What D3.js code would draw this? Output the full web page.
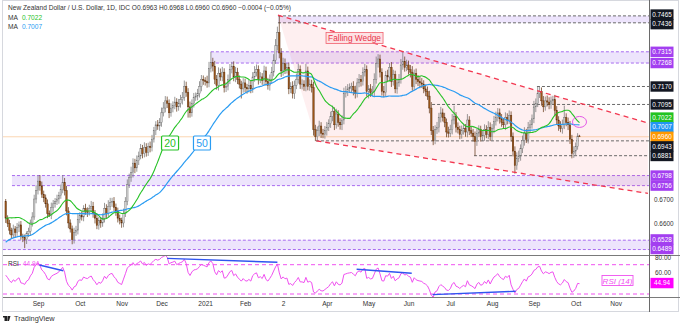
<!DOCTYPE html>
<html>
<head>
<meta charset="utf-8">
<script src="https://cdn.jsdelivr.net/npm/d3@7"></script>
<style>
  body { margin: 0; background: #fff; }
  svg { display: block; font-family: "Liberation Sans", Arial, sans-serif; }
</style>
</head>
<body>
<svg id="chart" width="680" height="325"></svg>
<script>
// NZD/USD daily closes in pips (6620 = 0.6620), 7 Aug 2020 .. 5 Oct 2021
var warmup = [6300,6330,6360,6400,6440,6480,6500,6520,6530,6500,
              6490,6530,6550,6460,6420,6450,6470,6480,6460,6440,
              6430,6470,6480,6460,6440,6420,6450,6430,6460,6500,
              6520,6540,6560,6570,6550,6570,6590,6600,6620,6630,
              6660,6690,6670,6640,6630,6670,6650,6660,6690];
var firstOpen = 6690;
var closes = [
  6620,6598,6570,6550,6575,6560,6580,6592,6545,6540,
  6530,6555,6565,6600,6625,6700,6735,6775,6755,6720,
  6705,6680,6640,6630,6665,6680,6690,6700,6715,6740,
  6770,6735,6650,6600,6575,6530,6560,6570,6615,6630,
  6625,6660,6650,6645,6660,6670,6640,6620,6590,6610,
  6600,6620,6660,6640,6670,6685,6690,6665,6650,6620,
  6610,6600,6640,6690,6760,6790,6810,6850,6830,6860,
  6880,6910,6890,6915,6895,6920,6915,6950,6985,7010,
  7005,7020,7060,7080,7110,7100,7060,7080,7090,7105,
  7085,7100,7115,7125,7170,7145,7085,7060,7100,7125,
  7130,7140,7170,7200,7195,7190,7185,7245,7270,7255,
  7200,7175,7225,7210,7230,7165,7170,7200,7240,7255,
  7210,7230,7200,7180,7160,7185,7165,7160,7175,7160,
  7210,7230,7240,7200,7210,7195,7235,7190,7175,7200,
  7230,7280,7340,7395,7310,7235,7265,7240,7250,7160,
  7170,7140,7175,7200,7240,7180,7180,7170,7235,7170,
  7180,7165,6990,6960,6985,7005,6975,6970,6985,7000,
  7015,7045,7065,7010,7055,7020,7010,7030,7140,7150,
  7160,7165,7170,7155,7140,7185,7200,7190,7230,7240,
  7150,7160,7145,7150,7200,7265,7285,7230,7150,7145,
  7215,7210,7250,7190,7220,7160,7185,7200,7260,7275,
  7250,7260,7240,7230,7170,7225,7200,7190,7185,7180,
  7160,7150,7130,7080,6985,6945,6990,7000,7040,7060,
  7040,7020,6980,6975,6990,7030,7045,7000,6990,6970,
  6985,6995,6980,7030,6985,6975,6960,6940,6975,6990,
  6960,6965,6990,6970,7000,6960,6995,7025,7040,7060,
  7035,7020,7010,7040,7030,7050,6960,6900,6840,6870,
  6880,6910,6945,6975,6950,7000,7010,7035,7085,7100,
  7140,7150,7110,7085,7110,7105,7095,7110,7115,7070,
  7030,7005,6995,7010,7040,7020,7010,6950,6890,6900,
  6920,6963,6960];
// wick lengths above the body / below the body, pips
var wickUp = [
  10,12,15,10,18,12,20,14,16,10, 12,10,15,14,20,18,22,23,25,18,
  15,14,18,12,20,16,14,18,15,20, 30,18,20,16,15,14,20,18,22,15,
  18,14,20,15,16,22,18,14,20,16, 15,20,24,18,25,20,15,18,16,14,
  15,12,20,18,22,16,25,20,18,22, 18,20,16,22,18,15,20,18,16,15,
  20,18,22,25,20,18,16,20,18,22, 16,18,20,22,25,20,18,22,16,18,
  15,20,22,18,16,14,25,28,45,20, 22,18,25,20,22,16,18,20,24,18,
  20,22,18,16,14,20,18,16,22,18, 20,25,22,18,20,16,22,18,16,20,
  22,25,28,25,70,20,25,22,18,20, 18,22,20,24,25,18,20,16,30,18,
  20,18,25,20,18,22,16,18,20,22, 18,20,25,18,22,16,18,20,25,22,
  20,18,16,22,18,20,22,18,20,25, 18,16,20,22,25,30,20,18,16,22,
  20,25,18,22,20,16,18,22,25,40, 20,22,18,20,25,16,20,18,22,20,
  16,18,20,22,25,20,18,22,20,25, 18,20,16,22,20,25,45,18,20,16,
  22,20,18,25,16,20,18,22,20,18, 16,20,22,18,25,20,18,22,25,20,
  18,20,16,22,18,20,16,18,20,25, 22,18,20,25,18,22,20,18,25,20,
  30,18,16,20,18,22,20,18,16,20, 18,16,20,22,50,18,20,16,18,20,
  16,12,5];
var wickDn = [
  20,15,18,16,12,20,14,18,15,20, 35,18,14,16,15,12,18,16,20,15,
  18,16,20,5,14,18,16,15,20,14,  16,20,18,22,15,19,16,14,18,16,
  15,18,16,20,14,16,18,22,16,18, 20,16,18,22,14,16,18,15,20,18,
  16,20,18,15,16,14,18,20,22,16, 18,14,20,16,18,15,20,16,14,18,
  16,20,18,15,18,20,22,16,18,15, 20,16,18,20,15,18,45,20,16,18,
  15,18,16,20,18,16,20,18,16,22, 20,18,22,16,18,20,18,16,20,15,
  18,22,20,18,40,16,18,20,15,18, 16,20,18,22,16,18,20,16,18,22,
  15,18,16,20,22,25,20,18,16,22, 18,20,22,16,18,20,22,18,20,16,
  18,20,25,18,17,22,20,16,18,20, 16,18,20,22,16,18,20,22,18,16,
  20,16,18,22,20,16,18,20,16,18, 22,30,18,16,20,18,16,22,18,20,
  16,18,20,22,16,18,20,16,18,20, 18,16,20,22,18,16,20,18,22,16,
  18,20,16,22,18,20,16,18,22,20, 16,20,22,18,16,20,18,22,16,20,
  18,16,20,22,18,16,20,59,18,16, 20,18,22,16,20,18,16,20,18,16,
  20,18,16,22,18,16,20,22,34,18, 16,20,18,22,16,18,20,16,18,22,
  16,18,20,22,16,18,20,18,16,22, 18,20,16,22,18,16,22,20,20,18,
  16,14,0];

// month ticks (trading-day index of first session of the month)
var monthIdx = [17, 39, 61, 82, 105, 126, 146, 169, 191, 212, 234, 256, 278, 300, 321];
var monthLbl = ["Sep", "Oct", "Nov", "Dec", "2021", "Feb", "2", "Apr", "May", "Jun", "Jul", "Aug", "Sep", "Oct", "Nov"];
var priceTicks = [0.75, 0.74, 0.73, 0.72, 0.71, 0.70, 0.69, 0.68, 0.67, 0.66, 0.65];
var rsiTicks = [80, 60, 40];

// horizontal levels shown on the price scale
var levelVals = [0.7465, 0.7436, 0.7315, 0.7268, 0.7170, 0.7095, 0.7022, 0.7007, 0.6960, 0.6943, 0.6881, 0.6798, 0.6756, 0.6528, 0.6489];
var levelKind = ["line", "line", "zone", "zone", "line", "line", "ma20", "ma50", "last", "line", "line", "zone", "zone", "zone", "zone"];

// support / resistance zones: top, bottom, start index
var zoneTop = [0.7465, 0.7315, 0.6798, 0.6528];
var zoneBot = [0.7436, 0.7268, 0.6756, 0.6489];
var zoneFrom = [143.3, 108, 3.3, -1.5];
var zoneDash = ["#6a6a6a", "#a86cf0", "#a86cf0", "#a86cf0"];
// single dashed levels and where they start
var lineVals = [0.7170, 0.7095, 0.6943, 0.6881];
var lineFrom = [279.6, 224.4, 163.3, 246.5];

// falling wedge trendlines [index, price]
var wedgeUpper = [[143.3, 0.7468], [338, 0.70175]];
var wedgeLower = [[163.5, 0.6943], [338, 0.67235]];

// RSI divergence lines [index, rsi]
var rsiLines = [
  [[17.7, 69.6], [30.3, 61.8]],
  [[85, 78.7], [143, 73.3]],
  [[184.7, 63.7], [213.7, 58.3]],
  [[224.7, 29.1], [268.4, 33.7]]
];

var header = "New Zealand Dollar / U.S. Dollar, 1D, IDC  O0.6963  H0.6968  L0.6960  C0.6960  \u22120.0004 (\u22120.05%)";
var rsiNow = 44.94;

var colUp = "#d4d4d4", colUpLine = "#6e6e6e", colDn = "#9a5418", colDnLine = "#5b2f0d";
var colMa20 = "#27c227", colMa50 = "#2a9cf2", colWedge = "#f2364f", colRsi = "#f050f0";
var kindColor = { line: "#131722", zone: "#a33ff0", ma20: "#22c322", ma50: "#2196f3", last: "#ff9800" };

// ---- indicators
var allC = warmup.concat(closes);
var nW = warmup.length;

function sma(n) {
  var out = [];
  for (var i = 0; i < closes.length; i++) {
    var j = i + nW, s = 0;
    for (var k = j - n + 1; k <= j; k++) s += allC[k];
    out.push({ i: i, v: s / n / 1e4 });
  }
  return out;
}

function rsiCalc(n) {
  var out = [], g0 = 0, l0 = 0, ag, al;
  for (var j = 1; j < allC.length; j++) {
    var ch = allC[j] - allC[j - 1];
    var g = Math.max(ch, 0), l = Math.max(-ch, 0);
    if (j <= n) { g0 += g; l0 += l; if (j == n) { ag = g0 / n; al = l0 / n; } }
    else { ag = (ag * (n - 1) + g) / n; al = (al * (n - 1) + l) / n; }
    if (j >= nW) out.push({ i: j - nW, v: al == 0 ? 100 : 100 - 100 / (1 + ag / al) });
  }
  return out;
}

var candles = closes.map(function (c, i) {
  var o = i == 0 ? firstOpen : closes[i - 1];
  return { i: i, o: o / 1e4, c: c / 1e4,
           h: (Math.max(o, c) + wickUp[i]) / 1e4,
           l: (Math.min(o, c) - wickDn[i]) / 1e4 };
});
var ma20 = sma(20), ma50 = sma(50), rsi = rsiCalc(14);

// ---- layout
var plotL = 3, plotR = 649, mainT = 2, mainB = 255, rsiT = 256, rsiB = 297;
var x = d3.scaleLinear().domain([0, 338]).range([5.7, 5.7 + 338 * 1.9]);
var y = d3.scaleLinear().domain([0.66, 0.75]).range([7.5 + 0.09 * 2394, 7.5]);
var yr = d3.scaleLinear().domain([30, 70]).range([294, 264.7]);

var svg = d3.select("#chart");
svg.append("rect").attr("width", 680).attr("height", 325).attr("fill", "#fff");

var defs = svg.append("defs");
defs.append("clipPath").attr("id", "clipMain").append("rect")
  .attr("x", plotL).attr("y", mainT).attr("width", plotR - plotL).attr("height", mainB - mainT);
defs.append("clipPath").attr("id", "clipRsi").append("rect")
  .attr("x", plotL).attr("y", rsiT).attr("width", plotR - plotL).attr("height", rsiB - rsiT);

var main = svg.append("g").attr("clip-path", "url(#clipMain)");

// zones
zoneTop.forEach(function (t, k) {
  var x0 = x(zoneFrom[k]);
  main.append("rect")
    .attr("x", x0).attr("y", y(t)).attr("width", plotR - x0).attr("height", y(zoneBot[k]) - y(t))
    .attr("fill", "rgba(150,95,240,0.17)");
  [t, zoneBot[k]].forEach(function (v) {
    main.append("line").attr("x1", x0).attr("x2", plotR).attr("y1", y(v)).attr("y2", y(v))
      .attr("stroke", zoneDash[k]).attr("stroke-width", 1).attr("stroke-dasharray", "3,2");
  });
});

// wedge fill
var wedgePoly = [wedgeUpper[0], wedgeUpper[1], wedgeLower[1], wedgeLower[0]];
main.append("path")
  .attr("d", "M" + wedgePoly.map(function (p) { return x(p[0]) + "," + y(p[1]); }).join("L") + "Z")
  .attr("fill", "rgba(242,54,69,0.08)");

// single levels
lineVals.forEach(function (v, k) {
  main.append("line").attr("x1", x(lineFrom[k])).attr("x2", plotR).attr("y1", y(v)).attr("y2", y(v))
    .attr("stroke", "#6a6a6a").attr("stroke-width", 1).attr("stroke-dasharray", "3,2");
});

// last price line
main.append("line").attr("x1", plotL).attr("x2", plotR).attr("y1", y(0.6960)).attr("y2", y(0.6960))
  .attr("stroke", "#f7a85c").attr("stroke-opacity", 0.6).attr("stroke-width", 0.8);

// candles
var cg = main.append("g");
cg.selectAll("line").data(candles).enter().append("line")
  .attr("x1", function (d) { return x(d.i); }).attr("x2", function (d) { return x(d.i); })
  .attr("y1", function (d) { return y(d.h); }).attr("y2", function (d) { return y(d.l); })
  .attr("stroke", function (d) { return d.c >= d.o ? colUpLine : colDnLine; })
  .attr("stroke-width", 0.7);
cg.selectAll("rect").data(candles).enter().append("rect")
  .attr("x", function (d) { return x(d.i) - 0.75; }).attr("width", 1.5)
  .attr("y", function (d) { return y(Math.max(d.o, d.c)); })
  .attr("height", function (d) { return Math.max(0.6, Math.abs(y(d.o) - y(d.c))); })
  .attr("fill", function (d) { return d.c >= d.o ? colUp : colDn; })
  .attr("stroke", function (d) { return d.c >= d.o ? colUpLine : colDnLine; })
  .attr("stroke-width", 0.4);

// moving averages
var maLine = d3.line().x(function (d) { return x(d.i); }).y(function (d) { return y(d.v); }).curve(d3.curveMonotoneX);
main.append("path").datum(ma50).attr("d", maLine).attr("fill", "none").attr("stroke", colMa50).attr("stroke-width", 1.2);
main.append("path").datum(ma20).attr("d", maLine).attr("fill", "none").attr("stroke", colMa20).attr("stroke-width", 1.1);

// wedge lines
[wedgeUpper, wedgeLower].forEach(function (w) {
  main.append("line").attr("x1", x(w[0][0])).attr("y1", y(w[0][1])).attr("x2", x(w[1][0])).attr("y2", y(w[1][1]))
    .attr("stroke", colWedge).attr("stroke-width", 1.3).attr("stroke-dasharray", "5,4");
});

// annotations
var fw = main.append("g").attr("transform", "translate(" + x(183.6) + "," + y(0.7373) + ")");
fw.append("rect").attr("x", -28.5).attr("y", -5.5).attr("width", 57).attr("height", 11)
  .attr("fill", "#fde2e4").attr("stroke", "#f0606e").attr("stroke-width", 0.8);
fw.append("text").attr("text-anchor", "middle").attr("y", 3).attr("font-size", 8.3)
  .attr("fill", "#e8344a").text("Falling Wedge");

[["20", 86.5, colMa20], ["50", 103.3, colMa50]].forEach(function (m) {
  var g = main.append("g").attr("transform", "translate(" + x(m[1]) + "," + y(0.6934) + ")");
  g.append("rect").attr("x", -8.5).attr("y", -7).attr("width", 17).attr("height", 14).attr("rx", 1)
    .attr("fill", "#fff").attr("stroke", m[2]).attr("stroke-width", 1.2);
  g.append("text").attr("text-anchor", "middle").attr("y", 3.8).attr("font-size", 10.5)
    .attr("fill", m[2]).text(m[0]);
});

main.append("ellipse").attr("cx", x(302)).attr("cy", y(0.7022)).attr("rx", 7).attr("ry", 5.5)
  .attr("fill", "none").attr("stroke", "#e55ae8").attr("stroke-width", 1);

// ---- RSI panel
var rg = svg.append("g").attr("clip-path", "url(#clipRsi)");
[70, 30].forEach(function (v) {
  rg.append("line").attr("x1", plotL).attr("x2", plotR).attr("y1", yr(v)).attr("y2", yr(v))
    .attr("stroke", colRsi).attr("stroke-width", 1).attr("stroke-dasharray", "4,3");
});
var rsiLine = d3.line().x(function (d) { return x(d.i); }).y(function (d) { return yr(d.v); });
rg.append("path").datum(rsi).attr("d", rsiLine).attr("fill", "none").attr("stroke", colRsi).attr("stroke-width", 1);
rsiLines.forEach(function (l) {
  rg.append("line").attr("x1", x(l[0][0])).attr("y1", yr(l[0][1])).attr("x2", x(l[1][0])).attr("y2", yr(l[1][1]))
    .attr("stroke", "#2f55f0").attr("stroke-width", 1.4);
});
var rb = rg.append("g").attr("transform", "translate(" + x(322) + "," + yr(48.4) + ")");
rb.append("rect").attr("x", -15.5).attr("y", -5).attr("width", 31).attr("height", 10)
  .attr("fill", "#fff").attr("stroke", colRsi).attr("stroke-width", 0.9);
rb.append("text").attr("text-anchor", "middle").attr("y", 3).attr("font-size", 8).attr("font-style", "italic")
  .attr("fill", colRsi).text("RSI (14)");

var rt = svg.append("text").attr("x", 8).attr("y", 266).attr("font-size", 6.5).attr("fill", "#333");
rt.append("tspan").text("RSI");
rt.append("tspan").attr("dx", 4).attr("fill", colRsi).text(d3.format(".2f")(rsiNow));

// ---- frame
svg.append("rect").attr("x", 2.5).attr("y", 0.5).attr("width", 676).attr("height", 311)
  .attr("fill", "none").attr("stroke", "#d6d8de");
[mainB + 0.5, rsiB + 0.5].forEach(function (v) {
  svg.append("line").attr("x1", plotL).attr("x2", 680).attr("y1", v).attr("y2", v)
    .attr("stroke", "#7a7a7a").attr("stroke-width", 1.2);
});
svg.append("line").attr("x1", plotR + 0.5).attr("x2", plotR + 0.5).attr("y1", 0).attr("y2", 312)
  .attr("stroke", "#6a6a6a").attr("stroke-width", 1);

// ---- header
svg.append("text").attr("x", 8).attr("y", 10).attr("font-size", 6.6).attr("fill", "#333").text(header);
[["0.7022", colMa20, 19.5], ["0.7007", colMa50, 28.5]].forEach(function (m) {
  var t = svg.append("text").attr("x", 8).attr("y", m[2]).attr("font-size", 6.6).attr("fill", "#333");
  t.append("tspan").text("MA");
  t.append("tspan").attr("dx", 4).attr("fill", m[1]).text(m[0]);
});

// ---- price scale labels, pushed apart where they overlap
var gap = 9.6;
var labels = levelVals.map(function (v, k) {
  return { v: v, kind: levelKind[k], y: y(v), fixed: levelKind[k] == "last" };
}).sort(function (a, b) { return a.y - b.y; });
for (var it = 0; it < 60; it++) {
  for (var k = 0; k < labels.length - 1; k++) {
    var a = labels[k], b = labels[k + 1], ov = gap - (b.y - a.y);
    if (ov > 0) {
      if (a.fixed) b.y += ov;
      else if (b.fixed) a.y -= ov;
      else { a.y -= ov / 2; b.y += ov / 2; }
    }
  }
  labels.forEach(function (l) { if (l.y > 249) l.y = 249; });
}

var fmt = d3.format(".4f");
var yAxis = d3.axisRight(y).tickValues(priceTicks.filter(function (t) {
  return labels.every(function (l) { return Math.abs(l.y - y(t)) > 8; });
})).tickSize(0).tickPadding(0).tickFormat(fmt);
svg.append("g").attr("transform", "translate(" + (plotR + 5) + ",0)").call(yAxis)
  .call(function (g) { g.select(".domain").remove(); })
  .selectAll("text").attr("font-size", 6.4).attr("fill", "#333").attr("font-family", "Liberation Sans, Arial, sans-serif");

var lg = svg.append("g");
labels.forEach(function (l) {
  lg.append("rect").attr("x", plotR + 1.5).attr("y", l.y - 5.2).attr("width", 23).attr("height", 10.4)
    .attr("fill", kindColor[l.kind]);
  lg.append("text").attr("x", plotR + 13).attr("y", l.y + 2.3).attr("text-anchor", "middle")
    .attr("font-size", 6.4).attr("fill", "#fff").text(fmt(l.v));
});

var rAxis = d3.axisRight(yr).tickValues(rsiTicks.filter(function (t) {
  return Math.abs(yr(t) - yr(rsiNow)) > 8;
})).tickSize(0).tickPadding(0).tickFormat(d3.format(".2f"));
svg.append("g").attr("transform", "translate(" + (plotR + 6) + ",0)").call(rAxis)
  .call(function (g) { g.select(".domain").remove(); })
  .selectAll("text").attr("font-size", 6.4).attr("fill", "#333").attr("font-family", "Liberation Sans, Arial, sans-serif");
svg.append("rect").attr("x", plotR + 1.5).attr("y", yr(rsiNow) - 5.2).attr("width", 23).attr("height", 10.4).attr("fill", "#ff00ff");
svg.append("text").attr("x", plotR + 13).attr("y", yr(rsiNow) + 2.3).attr("text-anchor", "middle")
  .attr("font-size", 6.4).attr("fill", "#fff").text(d3.format(".2f")(rsiNow));

// ---- time axis
var xAxis = d3.axisBottom(x).tickValues(monthIdx).tickSize(0).tickPadding(0)
  .tickFormat(function (d, i) { return monthLbl[i]; });
svg.append("g").attr("transform", "translate(0," + 301 + ")").call(xAxis)
  .call(function (g) { g.select(".domain").remove(); })
  .selectAll("text").attr("font-size", 6.6).attr("fill", "#333").attr("font-family", "Liberation Sans, Arial, sans-serif");

// ---- TradingView mark
var tv = svg.append("g").attr("transform", "translate(3,316)");
tv.append("path").attr("d", "M0,0H4.5V5H3V1.5H0Z M5,0H7.5L6,5H4.8Z M1.5,1.5H3V5H1.5Z").attr("fill", "#222");
tv.append("text").attr("x", 11).attr("y", 5.2).attr("font-size", 7.4).attr("fill", "#333").text("TradingView");
</script>
</body>
</html>
